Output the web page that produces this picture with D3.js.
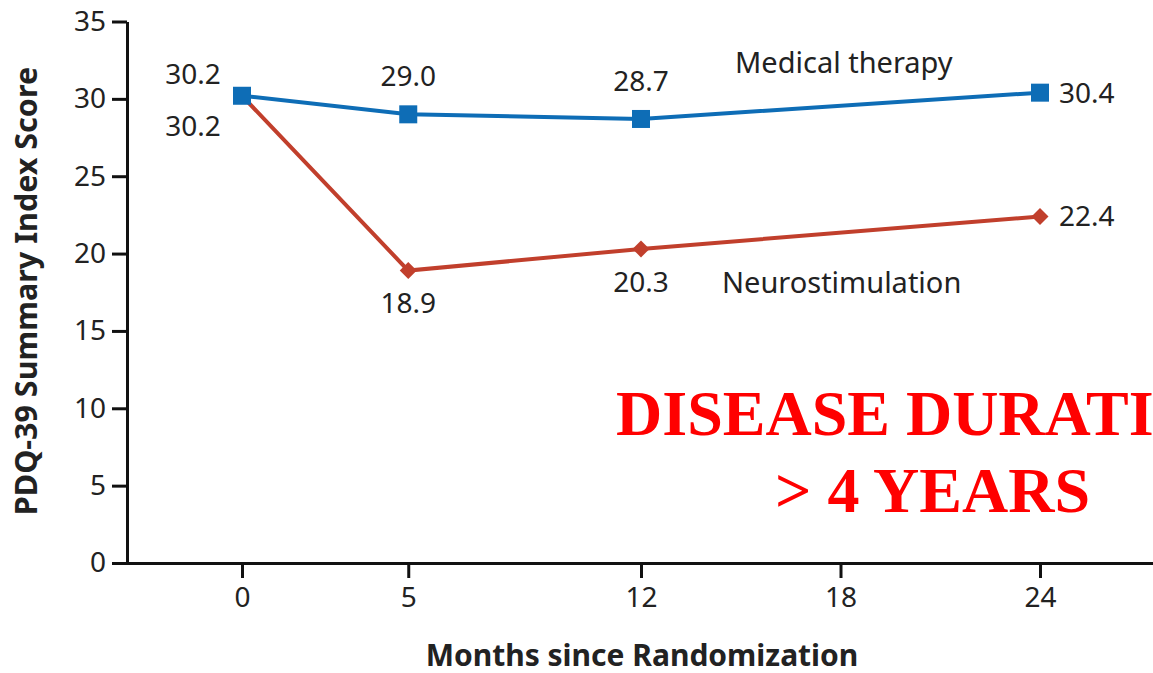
<!DOCTYPE html>
<html>
<head>
<meta charset="utf-8">
<script src="https://cdn.jsdelivr.net/npm/d3@7.9.0/dist/d3.min.js"></script>
<style>
  html, body { margin: 0; padding: 0; background: #fff; overflow: hidden; }
  svg { display: block; font-family: "Noto Sans", sans-serif; }
</style>
</head>
<body>
<svg id="chart" width="1153" height="673"></svg>
<script>
// data
const months = [0, 5, 12, 24];
const xTicks = [0, 5, 12, 18, 24];
const yTicks = [0, 5, 10, 15, 20, 25, 30, 35];
const medical = [30.2, 29.0, 28.7, 30.4];
const neuro = [30.2, 18.9, 20.3, 22.4];
const seriesNames = ['Medical therapy', 'Neurostimulation'];

const width = 1153;
const height = 673;
const svg = d3.select('#chart');

const blue = '#0e6db6';
const red = '#c13f2c';

const x = d3.scaleLinear().domain([0, 24]).range([242, 1040]);
const y = d3.scaleLinear().domain([0, 35]).range([563, 21.5]);

// axes
const yAxis = svg.append('g')
  .attr('transform', 'translate(127,0)')
  .call(d3.axisLeft(y).tickValues(yTicks).tickSize(15).tickPadding(6).tickSizeOuter(0));
const xAxis = svg.append('g')
  .attr('transform', 'translate(0,563)')
  .call(d3.axisBottom(x).tickValues(xTicks).tickSize(15).tickPadding(9).tickSizeOuter(0));

xAxis.select('.domain').attr('d', `M127,0.5H${width}`);
[xAxis, yAxis].forEach(a => {
  a.selectAll('.domain, line').attr('stroke', '#111').attr('stroke-width', 3);
  a.selectAll('text').attr('font-size', 28).attr('fill', '#222')
    .attr('font-family', '"Noto Sans", sans-serif');
});

// lines
const line = d3.line().x((d, i) => x(months[i])).y(d => y(d));

svg.append('path').datum(neuro)
  .attr('d', line).attr('fill', 'none').attr('stroke', red).attr('stroke-width', 4);
svg.append('path').datum(medical)
  .attr('d', line).attr('fill', 'none').attr('stroke', blue).attr('stroke-width', 4);

svg.append('g').selectAll('path').data(neuro).join('path')
  .attr('transform', (d, i) => `translate(${x(months[i])},${y(d)})`)
  .attr('d', 'M0,-8.5L8.5,0L0,8.5L-8.5,0Z')
  .attr('fill', red);

svg.append('g').selectAll('rect').data(medical).join('rect')
  .attr('x', (d, i) => x(months[i]) - 9)
  .attr('y', d => y(d) - 9)
  .attr('width', 18).attr('height', 18)
  .attr('fill', blue);

// value labels
function labelPos(series, i, v) {
  const px = x(months[i]), py = y(v);
  const last = i === months.length - 1;
  if (last) return { x: px + 19, y: py + 10, anchor: 'start' };
  if (series === 'med') {
    if (i === 0) return { x: px - 49, y: py - 12, anchor: 'middle' };
    return { x: px, y: py - 28, anchor: 'middle' };
  }
  if (i === 0) return { x: px - 49, y: py + 40, anchor: 'middle' };
  if (i === 1) return { x: px, y: py + 42, anchor: 'middle' };
  return { x: px, y: py + 43, anchor: 'middle' };
}

const labels = svg.append('g').attr('font-size', 28).attr('fill', '#222');
medical.forEach((v, i) => {
  const p = labelPos('med', i, v);
  labels.append('text').attr('x', p.x).attr('y', p.y).attr('text-anchor', p.anchor).text(v.toFixed(1));
});
neuro.forEach((v, i) => {
  const p = labelPos('neuro', i, v);
  labels.append('text').attr('x', p.x).attr('y', p.y).attr('text-anchor', p.anchor).text(v.toFixed(1));
});

// series names
labels.append('text').attr('x', 735).attr('y', 73).attr('font-size', 29).text(seriesNames[0]);
labels.append('text').attr('x', 722).attr('y', 293).attr('font-size', 29).text(seriesNames[1]);

// axis titles
svg.append('text')
  .attr('transform', 'translate(37,291) rotate(-90)')
  .attr('text-anchor', 'middle')
  .attr('font-size', 30.5).attr('font-weight', 'bold').attr('fill', '#222')
  .text('PDQ-39 Summary Index Score');
svg.append('text')
  .attr('x', 642).attr('y', 666)
  .attr('text-anchor', 'middle')
  .attr('font-size', 30).attr('font-weight', 'bold').attr('fill', '#222')
  .text('Months since Randomization');

// red annotation
const note = svg.append('g')
  .attr('font-family', '"Liberation Serif", "Times New Roman", serif')
  .attr('font-weight', 'bold').attr('font-size', 64).attr('fill', '#ff0000');
note.append('text').attr('x', 616).attr('y', 435).text('DISEASE DURATION');
note.append('text').attr('x', 775).attr('y', 512).text('> 4 YEARS');
</script>
</body>
</html>
